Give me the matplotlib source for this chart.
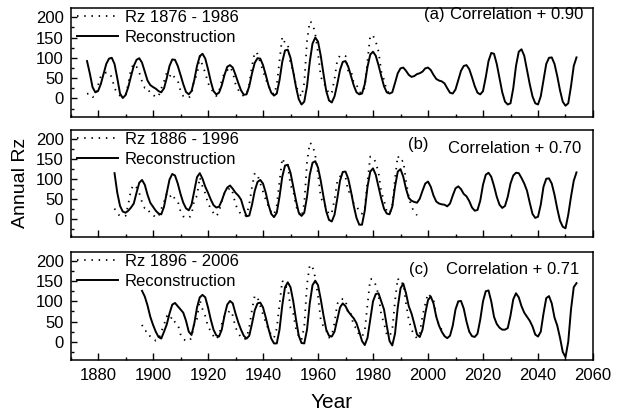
#!/usr/bin/env python3
# Annual sunspot number Rz vs reconstruction, three training windows.
import matplotlib
matplotlib.use('Agg')
import matplotlib.pyplot as plt
from matplotlib.ticker import MultipleLocator

matplotlib.rc('font', family='Liberation Sans')

# observed annual Rz, 1876 .. 2006
rzStart = 1876
rzValues = [11.3, 12.3, 3.4, 6.0, 32.3, 54.3, 59.7, 63.7, 63.5, 52.2,
            25.4, 13.1, 6.8, 6.3, 7.1, 35.6, 73.0, 85.1, 78.0, 64.0,
            41.8, 26.2, 26.7, 12.1, 9.5, 2.7, 5.0, 24.4, 42.0, 63.5,
            53.8, 62.0, 48.5, 43.9, 18.6, 5.7, 3.6, 1.4, 9.6, 47.4,
            57.1, 103.9, 80.6, 63.6, 37.6, 26.1, 14.2, 5.8, 16.7, 44.3,
            63.9, 69.0, 77.8, 64.9, 35.7, 21.2, 11.1, 5.7, 8.7, 36.1,
            79.7, 114.4, 109.6, 88.8, 67.8, 47.5, 30.6, 16.3, 9.6, 33.2,
            92.6, 151.6, 136.3, 134.7, 83.9, 69.4, 31.5, 13.9, 4.4, 38.0,
            141.7, 190.2, 184.8, 159.0, 112.3, 53.9, 37.6, 27.9, 10.2, 15.1,
            47.0, 93.8, 105.9, 105.5, 104.5, 66.6, 68.9, 38.0, 34.5, 15.5,
            12.6, 27.5, 92.5, 155.4, 154.6, 140.4, 115.9, 66.6, 45.9, 17.9,
            13.4, 29.4, 100.2, 157.6, 142.6, 145.7, 94.3, 54.6, 29.9, 17.5,
            8.6, 21.5, 64.3, 93.3, 119.6, 111.0, 104.0, 63.7, 40.4, 29.8,
            15.2]

# reconstructions, yearly
recA_start = 1876
recA = [92, 62, 28, 15, 18, 35, 60, 85, 98, 100,
        85, 50, 12, 1, 8, 28, 55, 80, 95, 99,
        88, 66, 44, 33, 28, 24, 18, 15, 25, 50,
        80, 96, 95, 80, 58, 35, 16, 10, 18, 45,
        80, 104, 110, 98, 72, 42, 18, 10, 14, 32,
        58, 78, 82, 76, 58, 38, 20, 9, 10, 30,
        62, 88, 99, 98, 82, 58, 32, 14, 7, 12,
        45, 90, 118, 120, 100, 65, 28, -2, -15, -8,
        30, 90, 135, 150, 140, 105, 60, 18, -5, -10,
        5, 35, 70, 90, 92, 78, 55, 32, 15, 10,
        12, 35, 78, 108, 115, 105, 82, 55, 30, 15,
        12, 15, 38, 62, 74, 76, 68, 58, 53, 55,
        60, 62, 66, 74, 76, 70, 58, 48, 44, 42,
        37, 25, 14, 12, 22, 45, 68, 80, 82, 72,
        52, 30, 14, 10, 18, 52, 92, 112, 110, 85,
        50, 15, -8, -15, -12, 25, 80, 115, 121, 105,
        70, 35, 5, -12, -15, 5, 45, 85, 100, 101,
        85, 55, 20, -8, -18, -12, 30, 80, 101]

recB_start = 1886
recB = [114, 65, 32, 18, 15, 20, 28, 38, 65, 90,
        97, 85, 60, 40, 30, 20, 13, 11, 30, 65,
        98, 112, 108, 88, 62, 40, 26, 21, 35, 70,
        104, 114, 100, 80, 65, 48, 34, 28, 30, 45,
        65, 78, 83, 75, 65, 58, 48, 25, 6, 8,
        35, 70, 92, 97, 88, 65, 35, 12, 4, 15,
        55, 105, 133, 135, 115, 80, 45, 15, 7, 15,
        55, 110, 140, 144, 128, 95, 55, 18, -3, -7,
        10, 50, 95, 117, 118, 100, 68, 32, 2, -15,
        -15, 20, 80, 118, 126, 110, 80, 50, 25, 13,
        11, 30, 80, 118, 124, 105, 75, 52, 45, 42,
        40, 50, 70, 88, 93, 80, 58, 43, 38, 36,
        35, 31, 38, 58, 76, 81, 74, 62, 56, 44,
        28, 20, 22, 45, 85, 110, 115, 105, 82, 55,
        35, 27, 32, 55, 88, 108, 115, 114, 102, 88,
        70, 40, 12, 2, 5, 35, 80, 100, 101, 88,
        60, 25, -5, -20, -24, 10, 55, 95, 116]

recC_start = 1896
recC = [126, 112, 90, 62, 42, 25, 12, 8, 25, 43,
        70, 92, 96, 88, 80, 72, 52, 25, 17, 45,
        85, 110, 116, 110, 85, 55, 30, 16, 13, 30,
        65, 92, 101, 95, 70, 48, 30, 15, 8, 15,
        45, 78, 95, 97, 85, 60, 32, 8, -4, -4,
        30, 90, 135, 147, 135, 100, 55, 15, -3, -4,
        30, 95, 140, 151, 140, 105, 65, 30, 15, 13,
        25, 55, 85, 95, 88, 75, 66, 58, 46, 25,
        2, -8, 10, 55, 100, 118, 120, 100, 80, 40,
        2, -9, 20, 85, 132, 144, 120, 88, 70, 45,
        18, 12, 30, 70, 103, 112, 95, 62, 40, 25,
        14, 9, 15, 40, 80, 100, 101, 82, 50, 25,
        14, 12, 20, 55, 100, 125, 127, 100, 62, 44,
        35, 30, 30, 34, 65, 105, 120, 110, 88, 72,
        62, 52, 38, 18, 13, 25, 70, 108, 113, 95,
        60, 40, 10, -25, -38, 0, 80, 135, 145]

panelTags = ['(a)', '(b)', '(c)']
obsSpans = [(1876, 1986), (1886, 1996), (1896, 2006)]
corrValues = ['+ 0.90', '+ 0.70', '+ 0.71']
recs = [(recA_start, recA), (recB_start, recB), (recC_start, recC)]
xticks = list(range(1880, 2061, 20))

fig = plt.figure(figsize=(6.17, 4.16), dpi=100)
left, width = 0.1143, 0.8468
boxes = [(0.7195, 0.2606), (0.431, 0.2565), (0.1346, 0.2596)]
# where the tag / correlation text sit, axes fraction
tagPos = [(0.696, 0.94), (0.665, 0.86), (0.667, 0.84)]
corrPos = [(0.726, 0.94), (0.722, 0.83), (0.718, 0.84)]

axes = []
for i in range(3):
    ax = fig.add_axes([left, boxes[i][0], width, boxes[i][1]])
    axes.append(ax)
    y0, y1 = obsSpans[i]
    yrs = list(range(y0, y1 + 1))
    obs = rzValues[y0 - rzStart:y1 - rzStart + 1]
    ax.plot(yrs, obs, color='k', linewidth=1.3, linestyle=(0, (0.8, 3.2)),
            label='Rz {0} - {1}'.format(y0, y1))
    rs, rv = recs[i]
    ax.plot(list(range(rs, rs + len(rv))), rv, color='k', linewidth=1.4,
            label='Reconstruction')

    ax.set_xlim(1870, 2060)
    ax.set_ylim(-45, 222)
    ax.set_xticks(xticks)
    ax.xaxis.set_minor_locator(MultipleLocator(10))
    ax.set_yticks([0, 50, 100, 150, 200])
    ax.yaxis.set_minor_locator(MultipleLocator(25))
    ax.tick_params(axis='both', which='both', direction='in', top=False, right=False,
                   labelsize=12, width=1.0, colors='k')
    ax.tick_params(axis='x', which='major', length=5, pad=6)
    ax.tick_params(axis='x', which='minor', length=2.5)
    ax.tick_params(axis='y', which='major', length=4, pad=5)
    ax.tick_params(axis='y', which='minor', length=2.5)
    for s in ax.spines.values():
        s.set_linewidth(1.1)
    if i < 2:
        ax.tick_params(axis='x', which='both', labelbottom=False)

    ax.legend(loc='upper left', bbox_to_anchor=(0.01, 1.0), frameon=False, fontsize=12,
              borderaxespad=0, borderpad=0.1, handlelength=2.45, handletextpad=0.4,
              labelspacing=0.3)
    ax.text(tagPos[i][0], tagPos[i][1], panelTags[i], transform=ax.transAxes,
            ha='center', va='center', fontsize=12)
    ax.text(corrPos[i][0], corrPos[i][1], 'Correlation ' + corrValues[i],
            transform=ax.transAxes, ha='left', va='center', fontsize=12)

axes[1].set_ylabel('Annual Rz', fontsize=14, labelpad=5)
axes[2].set_xlabel('Year', fontsize=15, labelpad=7)

plt.savefig('out.png', dpi=100)
